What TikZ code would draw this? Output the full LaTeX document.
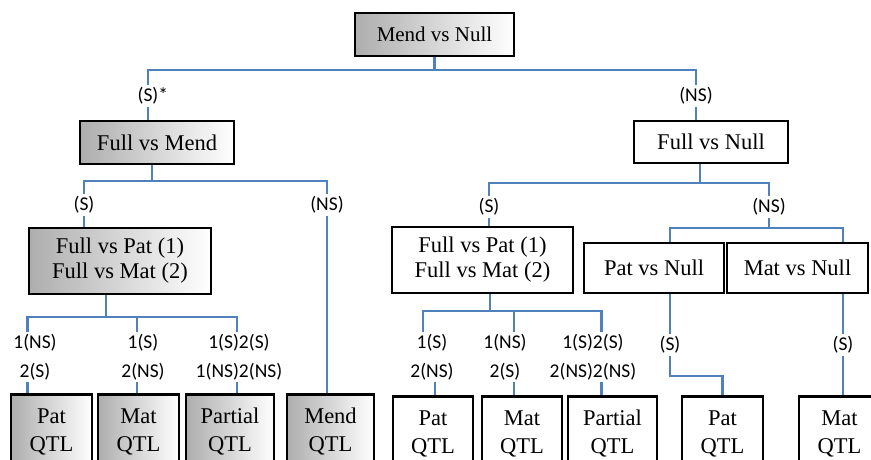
\documentclass[tikz,border=0pt]{standalone}
\usepackage{fontspec}
\setmainfont{Liberation Serif}
\newfontfamily\lblfont{Carlito}
\usetikzlibrary{positioning,backgrounds}

\definecolor{linkblue}{RGB}{79,129,189}

\tikzset{
  box/.style={draw=black, line width=2.6pt, inner sep=0pt, align=center,
    font=\fontsize{22.5}{25}\selectfont},
  gbox/.style={box, left color=black!32, middle color=black!13, right color=white},
  wbox/.style={box, fill=white},
  qtlbox/.style={draw=black, line width=2.6pt, anchor=north, align=center,
    inner xsep=0pt, inner ysep=14pt, font=\fontsize{22.5}{28}\selectfont},
  qtlg/.style={qtlbox, left color=black!32, middle color=black!13, right color=white},
  qtlw/.style={qtlbox, fill=white},
  lbl/.style={fill=white, inner sep=2.5pt, align=center,
    font=\lblfont\fontsize{19.5}{29}\selectfont},
  conn/.style={draw=linkblue, line width=2.2pt},
}

\begin{document}
\begin{tikzpicture}[x=1pt,y=-1pt]
\useasboundingbox (0,0) rectangle (871,459);

% Tests
\node[gbox, minimum width=159, minimum height=43, font=\fontsize{21}{25}\selectfont] (root) at (434.5,34.5) {Mend vs Null};
\node[gbox, minimum width=154, minimum height=43] (fm) at (157,142.5) {Full vs Mend};
\node[wbox, minimum width=154, minimum height=42] (fn) at (711,142) {Full vs Null};
\node[gbox, minimum width=182, minimum height=66] (fpl) at (120,261) {Full vs Pat (1)\\Full vs Mat (2)};
\node[wbox, minimum width=181, minimum height=66] (fpr) at (482.5,260) {Full vs Pat (1)\\Full vs Mat (2)};
\node[wbox, minimum width=140, minimum height=50] (pn) at (654,268) {Pat vs Null};
\node[wbox, minimum width=141, minimum height=50] (mn) at (797.5,268) {Mat vs Null};

% Outcomes
\node[qtlg, minimum width=81] (lpat) at (51.5,393) {Pat\\QTL};
\node[qtlg, minimum width=81] (lmat) at (138.5,393) {Mat\\QTL};
\node[qtlg, minimum width=88] (lpar) at (230,393) {Partial\\QTL};
\node[qtlg, minimum width=87] (lmend) at (330.5,393) {Mend\\QTL};
\node[qtlw, minimum width=80] (rpat) at (433,395) {Pat\\QTL};
\node[qtlw, minimum width=80] (rmat) at (522,395) {Mat\\QTL};
\node[qtlw, minimum width=89] (rpar) at (612.5,395) {Partial\\QTL};
\node[qtlw, minimum width=81] (rpat2) at (722.5,395) {Pat\\QTL};
\node[qtlw, minimum width=81] (rmat2) at (839.5,395) {Mat\\QTL};

% Significance labels
\node[lbl] (sA) at (148,96) {(S)\rlap{*}};
\node[lbl] (nsA) at (696,96) {(NS)};
\node[lbl] (sB) at (84,205) {(S)};
\node[lbl] (nsB) at (327,205) {(NS)};
\node[lbl] (sC) at (489,207) {(S)};
\node[lbl] (nsC) at (769,207) {(NS)};
\node[lbl] (l1) at (35,357) {1(NS)\\2(S)};
\node[lbl] (l2) at (143,357) {1(S)\\2(NS)};
\node[lbl] (l3) at (239,357) {1(S)2(S)\\1(NS)2(NS)};
\node[lbl] (r1) at (432,357) {1(S)\\2(NS)};
\node[lbl] (r2) at (505,357) {1(NS)\\2(S)};
\node[lbl] (r3) at (593,357) {1(S)2(S)\\2(NS)2(NS)};
\node[lbl] (sD) at (670,345) {(S)};
\node[lbl] (sE) at (843,345) {(S)};

% Connectors
\begin{pgfonlayer}{background}
\draw[conn] (root.south) -- ++(0,12.5) coordinate (j0) -| (sA.center) -- (sA.center |- fm.north);
\draw[conn] (j0) -| (nsA.center) -- (nsA.center |- fn.north);
% left branch
\draw[conn] ([xshift=-5pt]fm.south) -- ++(0,16) coordinate (j1) -| (sB.center) -- (sB.center |- fpl.north);
\draw[conn] (j1) -| (nsB.center) -- (nsB.center |- lmend.north);
\draw[conn] ([xshift=-14pt]fpl.south) -- ++(0,22) coordinate (j4);
\draw[conn] (j4) -| ([xshift=-24pt]lpat.north);
\draw[conn] (j4) -| ([xshift=-1.5pt]lmat.north);
\draw[conn] (j4) -| ([xshift=7pt]lpar.north);
% right branch
\draw[conn] ([xshift=-11pt]fn.south) -- ++(0,19) coordinate (j2) -| (sC.center) -- (sC.center |- fpr.north);
\draw[conn] (j2) -| (nsC.center) -- ++(0,21) coordinate (j3);
\draw[conn] (sD.center |- pn.north) |- (j3) -| (sE.center |- mn.north);
\draw[conn] ([xshift=7.5pt]fpr.south) -- ++(0,17) coordinate (j5);
\draw[conn] (j5) -| ([xshift=-9pt]r1.center);
\draw[conn] ([xshift=2pt]rpat.north) |- (r1.center);
\draw[conn] (j5) -| ([xshift=-8pt]rmat.north);
\draw[conn] (j5) -| ([xshift=-11pt]rpar.north);
\draw[conn] (sD.center |- pn.south) -- ++(0,82) -| (rpat2.north);
\draw[conn] (sE.center |- mn.south) -- (sE.center |- rmat2.north);
\end{pgfonlayer}
\end{tikzpicture}
\end{document}
